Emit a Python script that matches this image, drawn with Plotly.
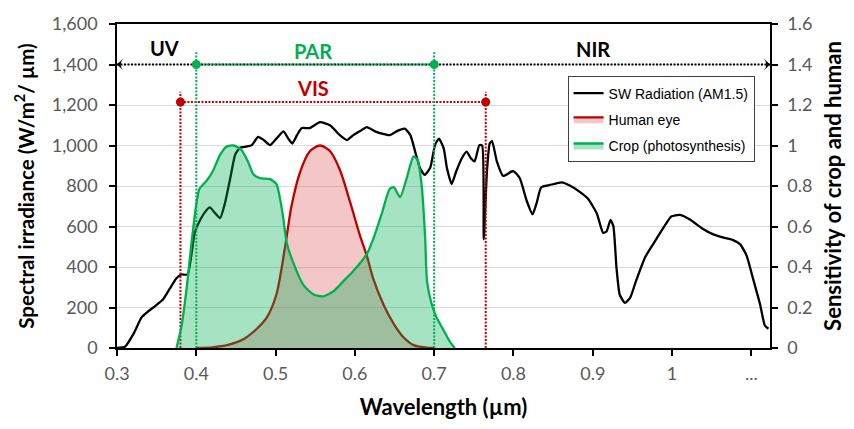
import plotly.graph_objects as go

# ---------------- data ----------------
sw_wl = [0.300, 0.310, 0.321, 0.331, 0.340, 0.348, 0.358, 0.367, 0.375, 0.381, 0.389,
         0.398, 0.405, 0.413, 0.417, 0.424, 0.430, 0.436, 0.443, 0.449, 0.455, 0.463,
         0.470, 0.478, 0.485, 0.493, 0.501, 0.510, 0.516, 0.521, 0.527, 0.533, 0.543,
         0.556, 0.569, 0.581, 0.590, 0.598, 0.606, 0.615, 0.627, 0.644, 0.655, 0.663,
         0.670, 0.676, 0.682, 0.688, 0.695, 0.701, 0.706, 0.712, 0.716, 0.722, 0.728,
         0.735, 0.741, 0.746, 0.751, 0.757, 0.7605, 0.7625, 0.7665, 0.770, 0.773,
         0.779, 0.787, 0.7997, 0.808, 0.8165, 0.824, 0.829, 0.835, 0.846, 0.861, 0.871,
         0.884, 0.894, 0.905, 0.913, 0.9174, 0.9224, 0.926, 0.930, 0.934, 0.9405, 0.947,
         0.955, 0.966, 0.976, 0.989, 0.999, 1.010, 1.023, 1.037, 1.052, 1.065, 1.077,
         1.086, 1.094, 1.102, 1.111, 1.117, 1.1215]
sw_val = [0, 6, 71, 151, 183, 207, 239, 296, 344, 363, 363,
          569, 633, 681, 694, 665, 641, 713, 842, 954, 989, 995,
          1002, 1043, 1027, 1002, 1034, 1070, 1034, 1010, 1051, 1086, 1086,
          1115, 1099, 1051, 1027, 1051, 1070, 1091, 1067, 1051, 1075, 1083,
          1051, 970, 890, 855, 890, 1002, 1034, 986, 890, 810, 874,
          938, 970, 938, 922, 1002, 1000, 536, 870, 1010, 1022,
          922, 850, 874, 838, 729, 660, 713, 794, 805, 818, 802,
          770, 737, 665, 569, 575, 633, 601, 392, 263, 223, 247,
          336, 448, 512, 593, 649, 657, 633, 593, 561, 545, 533,
          512, 456, 344, 215, 111, 95]

eye_wl = [0.400, 0.420, 0.440, 0.460, 0.475, 0.489, 0.501, 0.512, 0.520, 0.531, 0.543,
          0.556, 0.569, 0.581, 0.594, 0.606, 0.615, 0.623, 0.636, 0.649, 0.661, 0.674,
          0.690, 0.700]
eye_s = [0.0, 0.003, 0.015, 0.045, 0.09, 0.151, 0.264, 0.50, 0.70, 0.87, 0.97,
         1.0, 0.97, 0.88, 0.72, 0.56, 0.456, 0.344, 0.215, 0.119, 0.054, 0.014,
         0.002, 0.0]

crop_wl = [0.375, 0.381, 0.388, 0.394, 0.400, 0.404, 0.413, 0.421, 0.430, 0.438, 0.447,
           0.457, 0.465, 0.472, 0.480, 0.493, 0.501, 0.506, 0.510, 0.514, 0.522, 0.535,
           0.548, 0.560, 0.573, 0.585, 0.598, 0.615, 0.623, 0.634, 0.644, 0.649, 0.657,
           0.665, 0.674, 0.679, 0.684, 0.6885, 0.691, 0.697, 0.703, 0.712, 0.720, 0.726]
crop_s = [0.0, 0.10, 0.30, 0.52, 0.71, 0.786, 0.826, 0.874, 0.954, 0.994, 1.0,
          0.978, 0.922, 0.858, 0.839, 0.834, 0.81, 0.729, 0.633, 0.52, 0.424, 0.312,
          0.264, 0.255, 0.28, 0.328, 0.38, 0.464, 0.536, 0.665, 0.786, 0.794, 0.745,
          0.834, 0.946, 0.93, 0.81, 0.553, 0.328, 0.215, 0.151, 0.087, 0.03, 0.0]

x_tickvals = [0.3, 0.4, 0.5, 0.6, 0.7, 0.8, 0.9, 1.0, 1.1]
x_ticktext = ["0.3", "0.4", "0.5", "0.6", "0.7", "0.8", "0.9", "1", "..."]
x_range = [0.3, 1.1235]

par_band = [0.40, 0.70]
vis_band = [0.38, 0.765]
band_level_par = 1400
band_level_vis = 1215
par_top = 1460
vis_top = 1265

band_labels = ["UV", "PAR", "VIS", "NIR"]
band_label_x = [0.360, 0.547, 0.547, 0.900]
band_label_y = [1480, 1468, 1285, 1475]
band_label_colors = ["#000000", "#00B050", "#C00000", "#000000"]

GREEN = "#00B050"
RED = "#C00000"
FONT = "Lato"
TICKCOL = "#595959"
DOT = "2px,1.5px"

fig = go.Figure()

# SW radiation (primary axis)
fig.add_trace(go.Scatter(x=sw_wl, y=sw_val, mode="lines", name="SW Radiation (AM1.5)",
                         line=dict(color="black", width=2.3, shape="spline", smoothing=0.5),
                         legendgroup="a"))

# band reference lines (primary axis)
fig.add_trace(go.Scatter(x=[x_range[0], x_range[1]], y=[band_level_par] * 2, mode="lines",
                         line=dict(color="black", width=2, dash=DOT), showlegend=False,
                         hoverinfo="skip"))
fig.add_trace(go.Scatter(x=par_band, y=[band_level_par] * 2, mode="lines",
                         line=dict(color=GREEN, width=2, dash=DOT), showlegend=False,
                         hoverinfo="skip"))
fig.add_trace(go.Scatter(x=vis_band, y=[band_level_vis] * 2, mode="lines",
                         line=dict(color=RED, width=2, dash=DOT), showlegend=False,
                         hoverinfo="skip"))
for xv in par_band:
    fig.add_trace(go.Scatter(x=[xv, xv], y=[0, par_top], mode="lines",
                             line=dict(color=GREEN, width=2, dash=DOT), showlegend=False,
                             hoverinfo="skip"))
for xv in vis_band:
    fig.add_trace(go.Scatter(x=[xv, xv], y=[0, vis_top], mode="lines",
                             line=dict(color=RED, width=2, dash=DOT), showlegend=False,
                             hoverinfo="skip"))
fig.add_trace(go.Scatter(x=par_band, y=[band_level_par] * 2, mode="markers",
                         marker=dict(color=GREEN, size=9), showlegend=False, hoverinfo="skip"))
fig.add_trace(go.Scatter(x=vis_band, y=[band_level_vis] * 2, mode="markers",
                         marker=dict(color=RED, size=9), showlegend=False, hoverinfo="skip"))
# arrow heads at both ends of the UV / NIR line
fig.add_trace(go.Scatter(x=x_range, y=[band_level_par] * 2, mode="markers",
                         marker=dict(symbol="arrow-wide", size=9, angle=[-90, 90],
                                     color="black", line=dict(width=0)),
                         cliponaxis=False, showlegend=False, hoverinfo="skip"))

# Sensitivity curves (secondary axis)
fig.add_trace(go.Scatter(x=eye_wl, y=eye_s, mode="lines", name="Human eye", yaxis="y2",
                         fill="tozeroy", fillcolor="rgba(220,80,80,0.32)",
                         line=dict(color=RED, width=2.3, shape="spline", smoothing=0.8),
                         legendgroup="b"))
fig.add_trace(go.Scatter(x=crop_wl, y=crop_s, mode="lines", name="Crop (photosynthesis)",
                         yaxis="y2", fill="tozeroy", fillcolor="rgba(0,176,80,0.35)",
                         line=dict(color=GREEN, width=2.3, shape="spline", smoothing=0.6),
                         legendgroup="c"))

annotations = []
for t, xv, yv, c in zip(band_labels, band_label_x, band_label_y, band_label_colors):
    annotations.append(dict(x=xv, y=yv, xref="x", yref="y", text=f"<b>{t}</b>",
                            showarrow=False, font=dict(family=FONT, size=20, color=c)))

fig.update_layout(
    width=854, height=429,
    margin=dict(l=117, r=84, t=16, b=81),
    plot_bgcolor="white", paper_bgcolor="white",
    font=dict(family=FONT, color=TICKCOL),
    showlegend=True,
    legend=dict(x=0.69, y=0.838, xanchor="left", yanchor="top",
                bordercolor="#404040", borderwidth=1, bgcolor="white",
                font=dict(family="Liberation Sans", size=14, color="black"),
                tracegroupgap=5, entrywidth=200),
    xaxis=dict(range=x_range, tickvals=x_tickvals, ticktext=x_ticktext,
               ticks="outside", ticklen=6, tickcolor="black", tickwidth=1.5,
               showline=True, linecolor="black", linewidth=1.5, mirror=True,
               showgrid=False, zeroline=False, ticklabelstandoff=3,
               tickfont=dict(family=FONT, size=18, color=TICKCOL),
               title=dict(text="<b>Wavelength (µm)</b>", standoff=16,
                          font=dict(family=FONT, size=22, color="black"))),
    yaxis=dict(range=[0, 1600], dtick=200, tickformat=",",
               ticks="outside", ticklen=6, tickcolor="black", tickwidth=1.5,
               showline=True, linecolor="black", linewidth=1.5,
               showgrid=True, gridcolor="#D9D9D9", gridwidth=1, zeroline=False,
               ticklabelstandoff=8,
               tickfont=dict(family=FONT, size=18, color=TICKCOL),
               title=dict(text="<b>Spectral irradiance (W/m<sup>2</sup>/ µm)</b>", standoff=12,
                          font=dict(family=FONT, size=20.5, color="black"))),
    yaxis2=dict(range=[0, 1.6], dtick=0.2, overlaying="y", side="right",
                ticks="outside", ticklen=6, tickcolor="black", tickwidth=1.5,
                showline=True, linecolor="black", linewidth=1.5,
                showgrid=False, zeroline=False, ticklabelstandoff=6,
                tickfont=dict(family=FONT, size=18, color=TICKCOL),
                title=dict(text="<b>Sensitivity of crop and human</b>", standoff=14,
                           font=dict(family=FONT, size=22, color="black"))),
    annotations=annotations,
)

fig.write_html("out.html")
